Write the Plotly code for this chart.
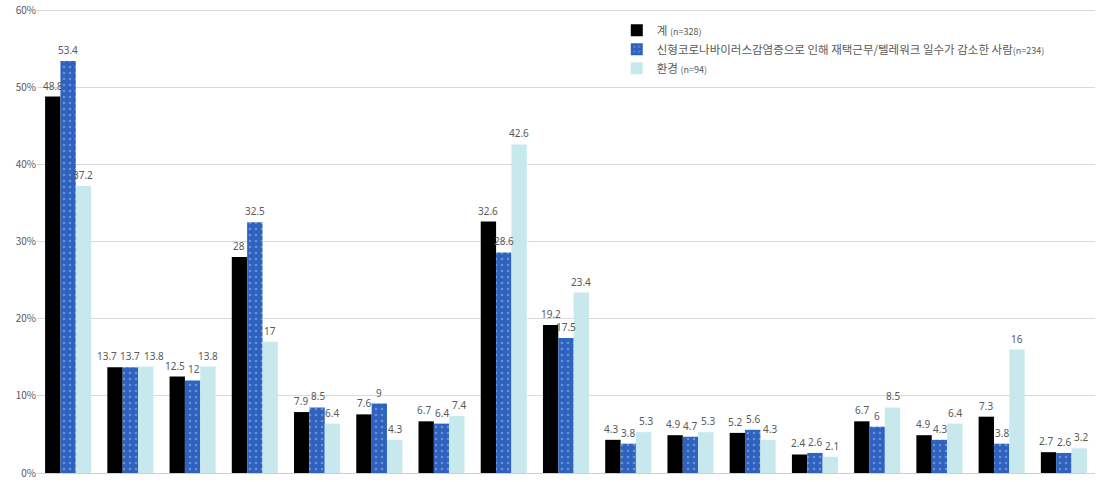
import plotly.graph_objects as go

categories = [f"항목{i}" for i in range(1, 18)]
total = [48.8, 13.7, 12.5, 28, 7.9, 7.6, 6.7, 32.6, 19.2, 4.3, 4.9, 5.2, 2.4, 6.7, 4.9, 7.3, 2.7]
decreased = [53.4, 13.7, 12, 32.5, 8.5, 9, 6.4, 28.6, 17.5, 3.8, 4.7, 5.6, 2.6, 6, 4.3, 3.8, 2.6]
env = [37.2, 13.8, 13.8, 17, 6.4, 4.3, 7.4, 42.6, 23.4, 5.3, 5.3, 4.3, 2.1, 8.5, 6.4, 16, 3.2]
y_ticks = [0, 10, 20, 30, 40, 50, 60]

names = [
    "계 <span style='font-size:9px'>(n=328)</span>",
    "신형코로나바이러스감염증으로 인해 재택근무/텔레워크 일수가 감소한 사람<span style='font-size:9px'>(n=234)</span>",
    "환경 <span style='font-size:9px'>(n=94)</span>",
]

font = "Noto Sans CJK KR, Noto Sans, sans-serif"
label_font = "Noto Sans, sans-serif"
W, H = 1100, 482
ML, MR, MT, MB = 37, 5, 2, 7
YMAX = 60.8
BARGAP = 0.26

fig = go.Figure()
fig.add_bar(x=categories, y=total, name=names[0], marker=dict(color="#000000"))
fig.add_bar(x=categories, y=decreased, name=names[1],
            marker=dict(color="#2F62BE", pattern=dict(shape=".", fgcolor="#9EC3F0", size=6, solidity=0.15)))
fig.add_bar(x=categories, y=env, name=names[2], marker=dict(color="#C7E9EE"))
fig.update_traces(marker_line_width=0)

# value labels as annotations, spread apart horizontally when they would collide
cat_px = (W - ML - MR) / len(categories)
bar_px = cat_px * (1 - BARGAP) / 3
px_per_unit = (H - MT - MB) / YMAX


def text_w(s):
    return sum(2.8 if c == "." else 5.8 for c in s)


for i, cat in enumerate(categories):
    vals = [total[i], decreased[i], env[i]]
    texts = [f"{v:g}" for v in vals]
    pos = [-bar_px, 0.0, bar_px]
    for _ in range(4):
        for j in range(2):
            if abs(vals[j] - vals[j + 1]) * px_per_unit < 12:
                need = (text_w(texts[j]) + text_w(texts[j + 1])) / 2 + 3
                d = pos[j + 1] - pos[j]
                if d < need:
                    push = (need - d) / 2
                    pos[j] -= push
                    pos[j + 1] += push
    for v, t, p in zip(vals, texts, pos):
        fig.add_annotation(x=cat, y=v, text=t, showarrow=False, xshift=p, yshift=2,
                           yanchor="bottom", xanchor="center",
                           font=dict(size=10, color="#595959", family=label_font))

fig.update_layout(
    width=W, height=H,
    margin=dict(l=ML, r=MR, t=MT, b=MB),
    paper_bgcolor="white", plot_bgcolor="white",
    barmode="group", bargap=BARGAP, bargroupgap=0,
    font=dict(family=font, size=11, color="#595959"),
    showlegend=True,
    legend=dict(x=0.548, y=0.975, xanchor="left", yanchor="top", bgcolor="rgba(0,0,0,0)",
                font=dict(size=11.5, color="#595959"), itemwidth=30, tracegroupgap=3,
                traceorder="normal"),
)
fig.update_xaxes(showticklabels=False, showgrid=False, showline=True, linecolor="#d0d0d0",
                 ticks="")
fig.update_yaxes(range=[0, YMAX], tickvals=y_ticks, ticktext=[f"{v}%" for v in y_ticks],
                 showgrid=True, gridcolor="#d9d9d9", ticklabeloverflow="allow",
                 zeroline=False, showline=False, tickfont=dict(size=10, color="#595959"))
fig.write_html("out.html")
